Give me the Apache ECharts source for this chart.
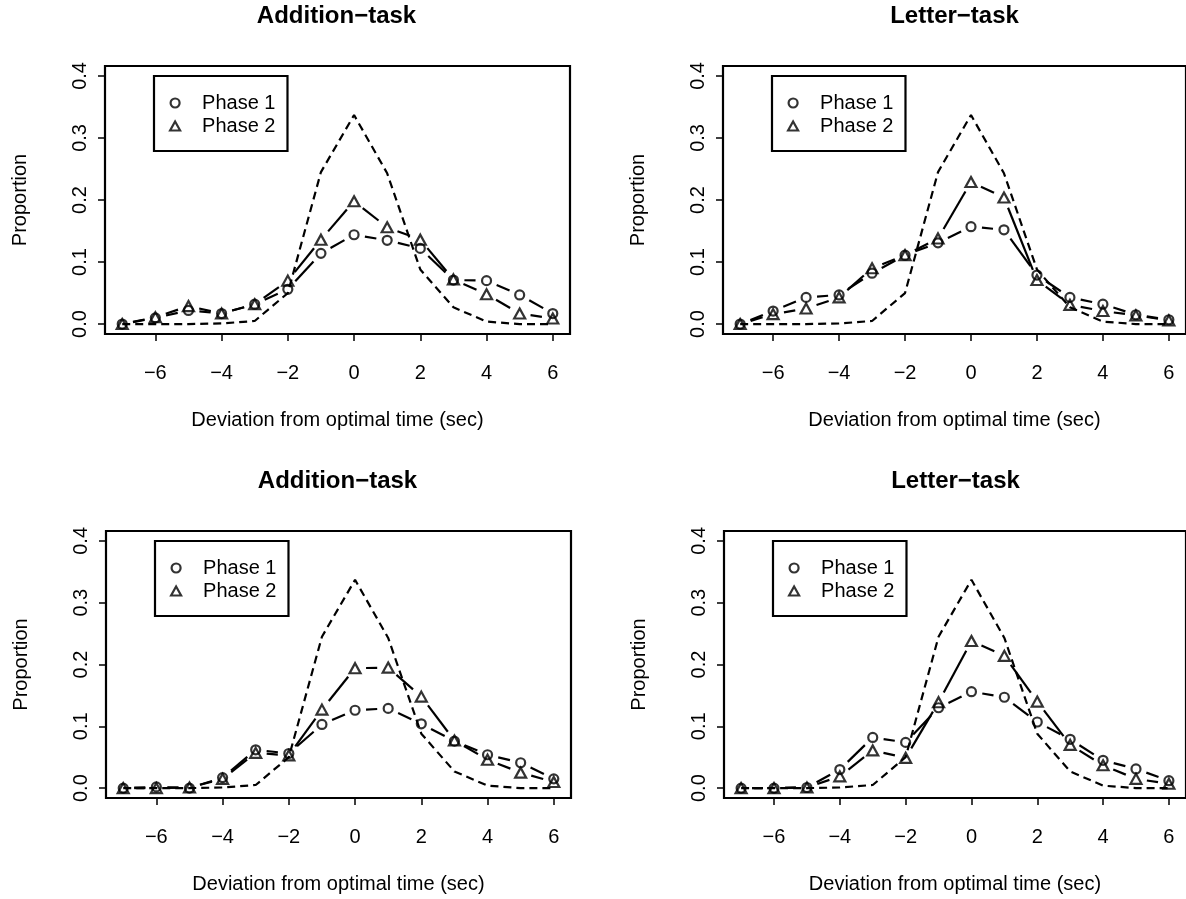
<!DOCTYPE html>
<html>
<head>
<meta charset="utf-8">
<script src="https://cdn.jsdelivr.net/npm/echarts@6/dist/echarts.min.js"></script>
<style>
html,body{margin:0;padding:0;background:#fff;}
#chart{width:1186px;height:899px;}
</style>
</head>
<body>
<div id="chart"></div>
<script>
// ---- data ----
var deviation = [-7, -6, -5, -4, -3, -2, -1, 0, 1, 2, 3, 4, 5, 6];
var xTicks = [-6, -4, -2, 0, 2, 4, 6];
var yTicks = [0, 0.1, 0.2, 0.3, 0.4];
var panelTitles = ['Addition\u2212task', 'Letter\u2212task', 'Addition\u2212task', 'Letter\u2212task'];
var xAxisTitle = 'Deviation from optimal time (sec)';
var yAxisTitle = 'Proportion';
var legendNames = ['Phase 1', 'Phase 2'];

// reference (optimal) distribution, dashed line
var optimal = [0, 0, 0, 0.001, 0.005, 0.05, 0.245, 0.337, 0.243, 0.088, 0.027, 0.004, 0, 0];

var additionTopPhase1 = [0, 0.010, 0.022, 0.017, 0.032, 0.056, 0.114, 0.144, 0.135, 0.122, 0.071, 0.070, 0.047, 0.017];
var additionTopPhase2 = [0, 0.011, 0.029, 0.017, 0.032, 0.070, 0.136, 0.198, 0.156, 0.136, 0.072, 0.048, 0.017, 0.009];

var letterTopPhase1 = [0, 0.021, 0.043, 0.047, 0.082, 0.111, 0.131, 0.157, 0.152, 0.079, 0.043, 0.032, 0.015, 0.007];
var letterTopPhase2 = [0, 0.016, 0.025, 0.043, 0.090, 0.111, 0.138, 0.229, 0.204, 0.071, 0.031, 0.021, 0.014, 0.006];

var additionBottomPhase1 = [0, 0.002, 0, 0.017, 0.062, 0.056, 0.103, 0.126, 0.129, 0.104, 0.076, 0.054, 0.041, 0.015];
var additionBottomPhase2 = [0, 0, 0.001, 0.015, 0.057, 0.053, 0.127, 0.194, 0.195, 0.148, 0.077, 0.046, 0.025, 0.010];

var letterBottomPhase1 = [0, 0, 0.001, 0.030, 0.082, 0.074, 0.130, 0.156, 0.147, 0.107, 0.079, 0.045, 0.031, 0.012];
var letterBottomPhase2 = [0, 0, 0.001, 0.019, 0.061, 0.049, 0.139, 0.238, 0.214, 0.140, 0.070, 0.037, 0.015, 0.007];

// ---- layout ----
var FONT = "'Liberation Sans', Arial, Helvetica, sans-serif";
var panels = [
  {p1: additionTopPhase1, p2: additionTopPhase2, left: 105, top: 66, width: 465, height: 268},
  {p1: letterTopPhase1, p2: letterTopPhase2, left: 723, top: 66, width: 465, height: 268},
  {p1: additionBottomPhase1, p2: additionBottomPhase2, left: 106, top: 531, width: 465, height: 267},
  {p1: letterBottomPhase1, p2: letterBottomPhase2, left: 724, top: 531, width: 465, height: 267}
];
var GAP = 11;
var LW = 2.2;

function pairs(xs, ys) {
  return xs.map(function (x, i) { return [x, ys[i]]; });
}
function segments(xs, ys) {
  var out = [];
  for (var i = 0; i < xs.length - 1; i++) out.push([xs[i], ys[i], xs[i + 1], ys[i + 1]]);
  return out;
}
function segRender(params, api) {
  var a = api.coord([api.value(0), api.value(1)]);
  var b = api.coord([api.value(2), api.value(3)]);
  var dx = b[0] - a[0], dy = b[1] - a[1];
  var len = Math.sqrt(dx * dx + dy * dy);
  if (!(len > 2 * GAP)) return null;
  var ux = dx / len, uy = dy / len;
  return {
    type: 'line',
    shape: {x1: a[0] + ux * GAP, y1: a[1] + uy * GAP, x2: b[0] - ux * GAP, y2: b[1] - uy * GAP},
    style: {stroke: '#000', lineWidth: LW, fill: null}
  };
}

var option = {
  backgroundColor: '#fff',
  animation: false,
  title: [], grid: [], xAxis: [], yAxis: [], legend: [], series: []
};

panels.forEach(function (pn, i) {
  option.grid.push({left: pn.left, top: pn.top, width: pn.width, height: pn.height,
    show: true, borderColor: '#000', borderWidth: 2.2, backgroundColor: 'transparent', containLabel: false});
  option.title.push({
    text: panelTitles[i], left: pn.left + pn.width / 2 - 1, top: pn.top - 62, textAlign: 'center', padding: 0,
    textStyle: {fontFamily: FONT, fontSize: 24, fontWeight: 'bold', color: '#000'}
  });
  option.xAxis.push({
    type: 'value', gridIndex: i, min: -7.52, max: 6.52,
    name: xAxisTitle, nameLocation: 'middle', nameGap: 76,
    nameTextStyle: {fontFamily: FONT, fontSize: 20, color: '#000'},
    axisLine: {show: false, onZero: false},
    splitLine: {show: false},
    axisTick: {show: true, customValues: xTicks, length: 7, lineStyle: {color: '#000', width: 1.5}},
    axisLabel: {customValues: xTicks, margin: 29, fontFamily: FONT, fontSize: 20, color: '#000',
      formatter: function (v) { return String(v).replace('-', '\u2212'); }}
  });
  option.yAxis.push({
    type: 'value', gridIndex: i, min: -0.016, max: 0.416,
    name: yAxisTitle, nameLocation: 'middle', nameGap: 75,
    nameTextStyle: {fontFamily: FONT, fontSize: 20, color: '#000'},
    axisLine: {show: false, onZero: false},
    splitLine: {show: false},
    axisTick: {show: true, customValues: yTicks, length: 7, lineStyle: {color: '#000', width: 1.5}},
    axisLabel: {customValues: yTicks, rotate: 90, margin: 15, fontFamily: FONT, fontSize: 20, color: '#000',
      formatter: function (v) { return v.toFixed(1); }}
  });
  option.legend.push({
    left: pn.left + 49, top: pn.top + 10, orient: 'vertical',
    itemWidth: 10, itemHeight: 9, itemGap: 3, padding: [17, 12, 15, 15],
    borderColor: '#000', borderWidth: 2.2, backgroundColor: '#fff',
    selectedMode: false,
    textStyle: {fontFamily: FONT, fontSize: 20, color: '#000', padding: [0, 0, 0, 17]},
    data: [
      {name: legendNames[0], icon: 'circle', itemStyle: {color: 'rgba(0,0,0,0)', borderColor: '#000', borderWidth: 2.2}},
      {name: legendNames[1], icon: 'triangle', itemStyle: {color: 'rgba(0,0,0,0)', borderColor: '#000', borderWidth: 2.2}}
    ]
  });
  // reference dashed curve
  option.series.push({
    type: 'line', name: 'optimal', xAxisIndex: i, yAxisIndex: i, data: pairs(deviation, optimal),
    symbol: 'none', silent: true, z: 2,
    lineStyle: {color: '#000', width: LW, type: [8, 5]}
  });
  // phase lines (type "b" style, gaps around points)
  [pn.p1, pn.p2].forEach(function (vals, k) {
    option.series.push({
      type: 'custom', name: 'line' + (k + 1), xAxisIndex: i, yAxisIndex: i,
      data: segments(deviation, vals), encode: {x: [0, 2], y: [1, 3]},
      renderItem: segRender, silent: true, z: 3
    });
  });
  option.series.push({
    type: 'scatter', name: legendNames[0], xAxisIndex: i, yAxisIndex: i, data: pairs(deviation, pn.p1),
    symbol: 'circle', symbolSize: 9, z: 4,
    itemStyle: {color: 'rgba(0,0,0,0)', borderColor: '#000', borderWidth: 2.2}
  });
  option.series.push({
    type: 'scatter', name: legendNames[1], xAxisIndex: i, yAxisIndex: i, data: pairs(deviation, pn.p2),
    symbol: 'triangle', symbolSize: [11, 10], z: 4,
    itemStyle: {color: 'rgba(0,0,0,0)', borderColor: '#000', borderWidth: 2.2}
  });
});

var chart = echarts.init(document.getElementById('chart'), null, {renderer: 'canvas'});
chart.setOption(option);
</script>
</body>
</html>
